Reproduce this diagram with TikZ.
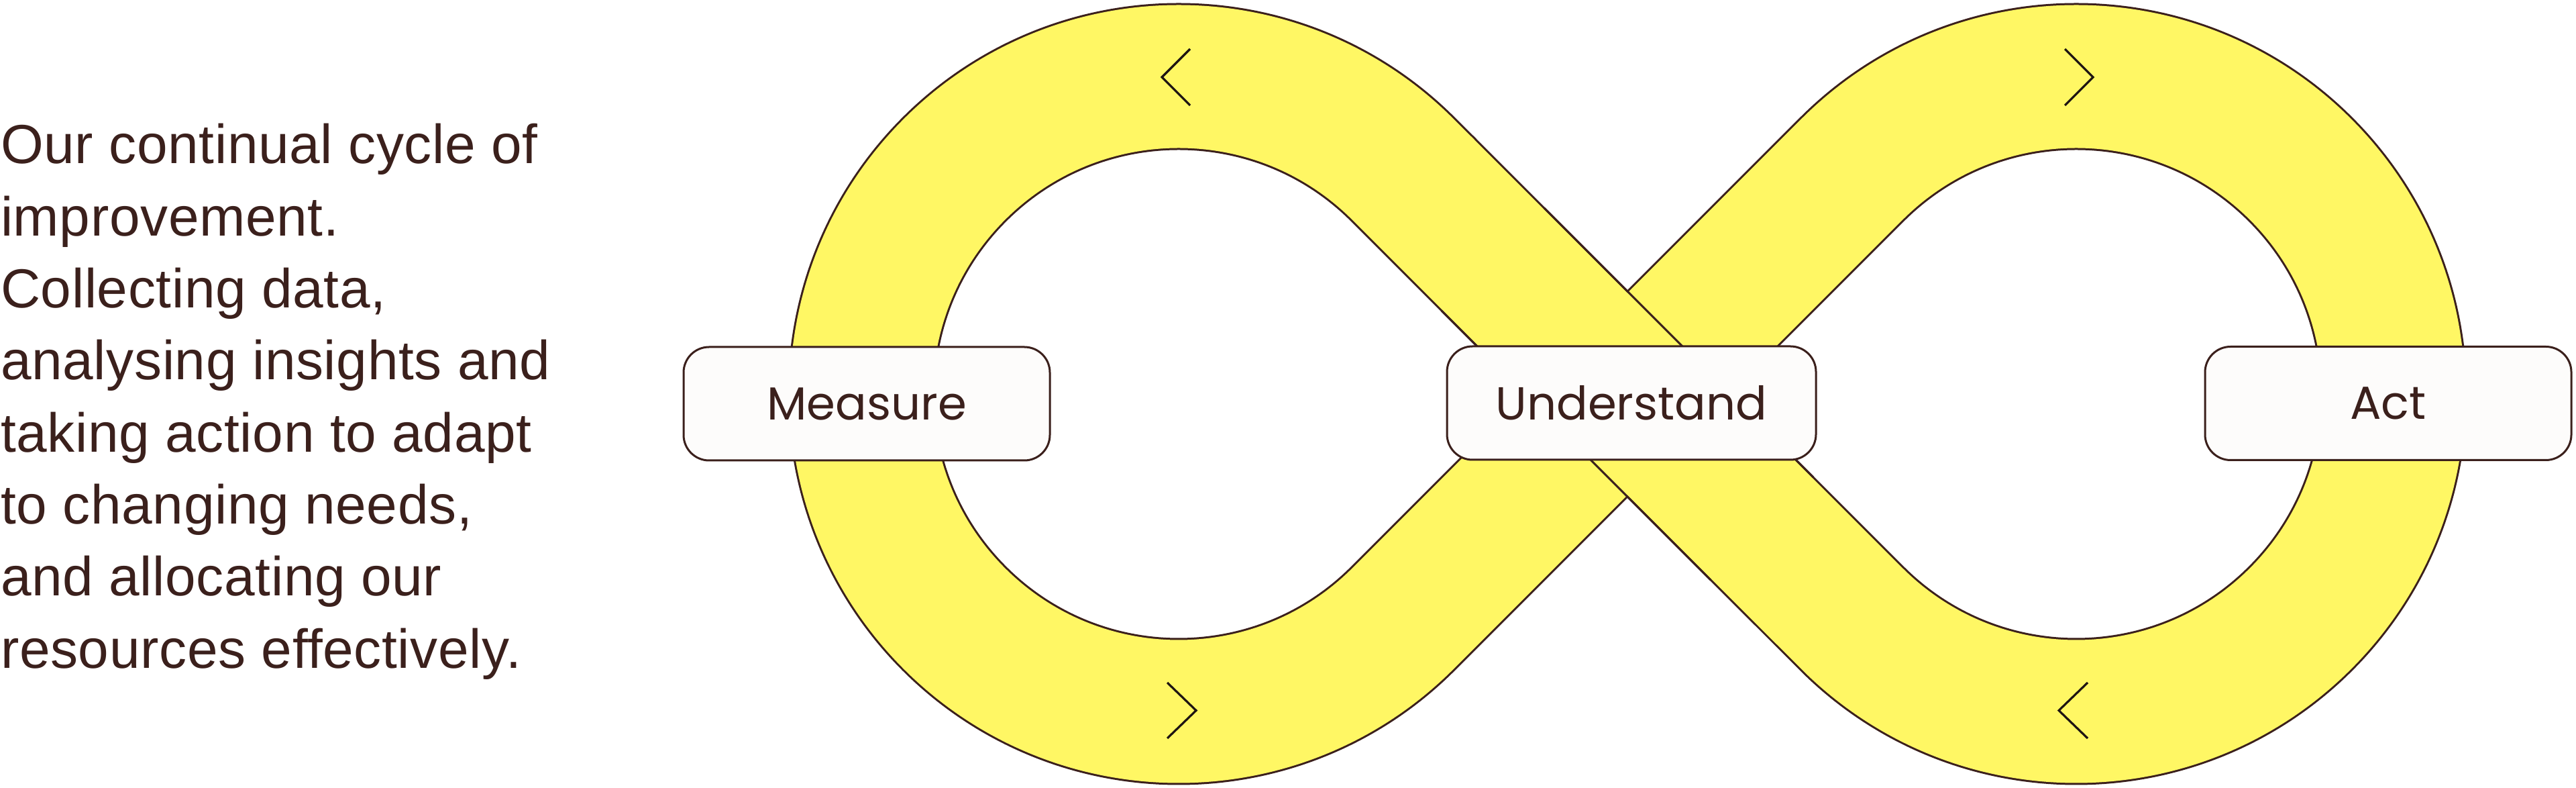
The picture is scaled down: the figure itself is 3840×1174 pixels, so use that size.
\documentclass[tikz,border=0pt]{standalone}
\usepackage{fontspec}
\setmainfont{Liberation Sans}
\newfontfamily\labelfont{Poppins}
\newfontfamily\bodyfont[LetterSpace=0.8]{Liberation Sans}
\usetikzlibrary{calc}
\definecolor{bandyellow}{RGB}{255,247,100}
\definecolor{inkbrown}{RGB}{59,32,28}
\definecolor{boxfill}{RGB}{253,252,251}
\definecolor{chevink}{RGB}{30,20,18}
\begin{document}
\begin{tikzpicture}[x=1pt,y=1pt,
  bandedge/.style={draw=inkbrown,line width=219pt},
  bandfill/.style={draw=bandyellow,line width=213pt},
  edgeline/.style={draw=inkbrown,line width=3pt},
  stagebox/.style={draw=inkbrown,line width=3pt,fill=boxfill,rounded corners=38pt,
    minimum width=546pt,minimum height=169pt,inner sep=0pt,
    font=\labelfont\fontsize{69}{80}\selectfont,text=inkbrown},
  chevron/.style={draw=chevink,line width=3.2pt,line join=miter}]
\useasboundingbox (0,0) rectangle (3840,1174);
\fill[white] (0,0) rectangle (3840,1174);
% loop geometry
\coordinate (C1) at (1757,587);
\coordinate (C2) at (3095,587);
\coordinate (T1) at (2091.46,921.46);
\coordinate (T2) at (2760.54,252.54);
\coordinate (T3) at (2760.54,921.46);
\coordinate (T4) at (2091.46,252.54);
% whole loop
\draw[bandedge] (T1) -- (T2) arc[start angle=225,end angle=495,radius=473] -- (T4) arc[start angle=315,end angle=45,radius=473] -- cycle;
\draw[bandfill] (T1) -- (T2) arc[start angle=225,end angle=495,radius=473] -- (T4) arc[start angle=315,end angle=45,radius=473] -- cycle;
% edges of the band that passes over at the crossing
\coordinate (O1) at ($(T1)!0.2!(T2)$);
\coordinate (O2) at ($(T1)!0.8!(T2)$);
\draw[edgeline] ($(O1)+(76.5,76.5)$) -- ($(O2)+(76.5,76.5)$);
\draw[edgeline] ($(O1)-(76.5,76.5)$) -- ($(O2)-(76.5,76.5)$);
% chevrons
\draw[chevron] (1774,1101) -- (1732,1059) -- (1774,1017);
\draw[chevron] (1740,157) -- (1783,115.5) -- (1740,74);
\draw[chevron] (3078,1101) -- (3120,1059) -- (3078,1017);
\draw[chevron] (3112,157) -- (3069,115.5) -- (3112,74);
% stage boxes
\node[stagebox] (measure) at (1292,572.5) {Measure};
\node[stagebox,minimum width=550pt] (understand) at (2432,573.5) {Understand};
\node[stagebox] (act) at (3560,573) {Act};
% description
\node[anchor=base west,inner sep=0pt,text=inkbrown,font=\bodyfont\fontsize{82}{107.3}\selectfont] (blurb) at (1,930)
{\vtop{\hbox{Our continual cycle of}\hbox{improvement.}\hbox{Collecting data,}\hbox{analysing insights and}\hbox{taking action to adapt}\hbox{to changing needs,}\hbox{and allocating our}\hbox{resources effectively.}}};
\end{tikzpicture}
\end{document}
